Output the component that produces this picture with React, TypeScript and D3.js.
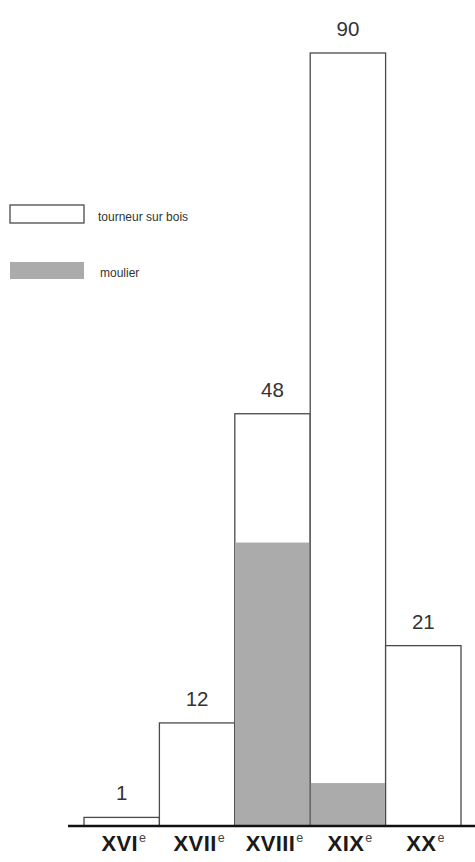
import React from "react";
import * as d3 from "d3";

// siècles and counts
const centuries = ["XVI", "XVII", "XVIII", "XIX", "XX"];
const totals = [1, 12, 48, 90, 21];
const moulier = [0, 0, 33, 5, 0];
const legendLabels = ["tourneur sur bois", "moulier"];

const W = 475;
const H = 862;
const baseY = 826;
const topY = 53;
const FONT = "'Liberation Sans', Arial, Helvetica, sans-serif";
const GREY = "#ababab";
const STROKE = "#4a4a4a";

export default function App() {
  const x = d3.scaleBand<string>().domain(centuries).range([84, 461]).padding(0);
  const y = d3.scaleLinear().domain([0, d3.max(totals) as number]).range([baseY, topY]);

  return (
    <div style={{ position: "absolute", left: 0, top: 0 }}>
      <svg width={W} height={H} style={{ display: "block", background: "#fff" }}>
        {/* bars */}
        {centuries.map((c, i) => {
          const x0 = x(c) as number;
          const bw = x.bandwidth();
          const yTop = y(totals[i]);
          const yGrey = y(moulier[i]);
          return (
            <g key={c}>
              <rect x={x0} y={yTop} width={bw} height={baseY - yTop} fill="#fff" stroke={STROKE} strokeWidth={1.3} />
              {moulier[i] > 0 && (
                <rect x={x0 + 0.7} y={yGrey} width={bw - 1.4} height={baseY - yGrey} fill={GREY} />
              )}
              <text x={x0 + bw / 2} y={yTop - 17} textAnchor="middle" fontFamily={FONT} fontSize={20.5} fill="#333">
                {totals[i]}
              </text>
              <text x={x0 + bw / 2 + 2} y={851} textAnchor="middle" fontFamily={FONT} fill="#1a1a1a">
                <tspan fontSize={22} fontWeight="bold" letterSpacing={0.4}>{c}</tspan>
                <tspan fontSize={12.5} dy={-9} dx={1} fill="#444">e</tspan>
              </text>
            </g>
          );
        })}

        {/* baseline */}
        <line x1={68} x2={475} y1={baseY} y2={baseY} stroke="#111" strokeWidth={2.5} />

        {/* legend */}
        <rect x={10} y={205} width={74} height={18} fill="#fff" stroke={STROKE} strokeWidth={1.3} />
        <text x={98} y={221} fontFamily={FONT} fontSize={12} fill="#333">{legendLabels[0]}</text>
        <rect x={10} y={262} width={74} height={17} fill={GREY} />
        <text x={100} y={277} fontFamily={FONT} fontSize={12} fill="#333">{legendLabels[1]}</text>
      </svg>
    </div>
  );
}
